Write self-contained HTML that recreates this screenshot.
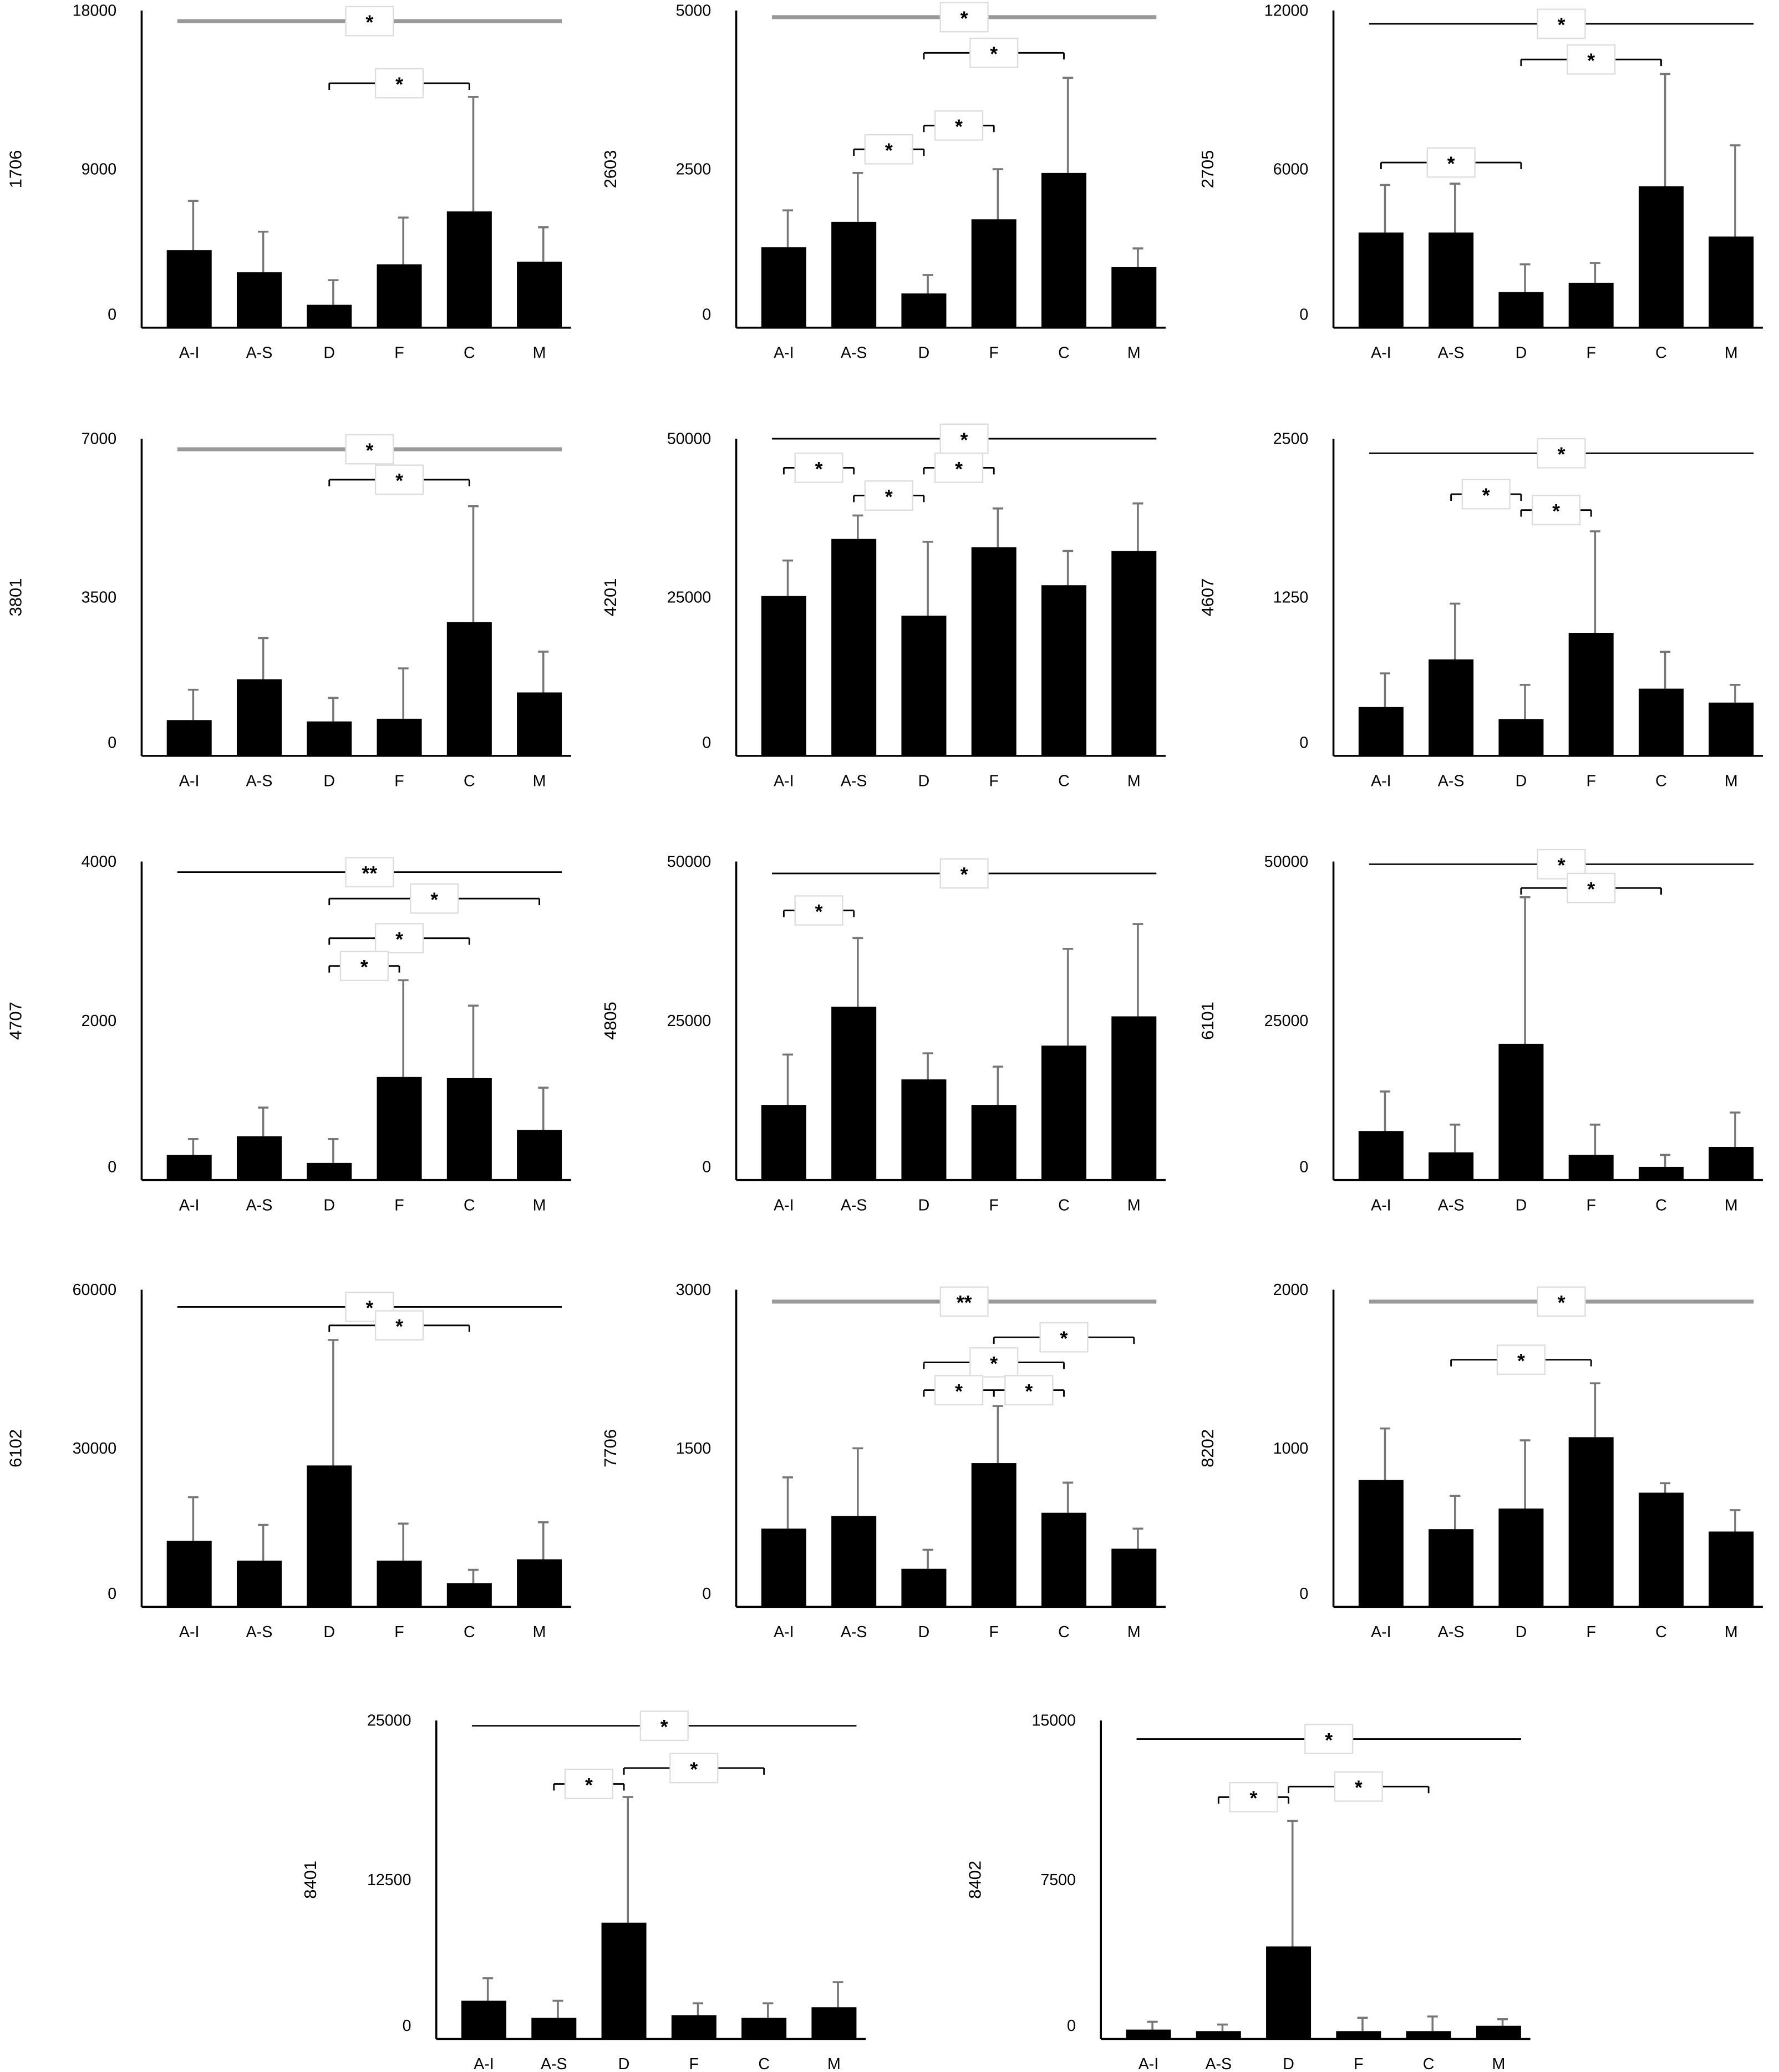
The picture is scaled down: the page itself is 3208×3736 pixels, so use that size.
<!DOCTYPE html>
<html><head><meta charset="utf-8"><style>
html,body{margin:0;padding:0;background:#fff;}
svg{display:block;font-family:"Liberation Sans",sans-serif;}
</style></head><body>
<svg id="fig" xmlns="http://www.w3.org/2000/svg" width="3208" height="3736" viewBox="0 0 1346 1568"></svg>
<script>
const categories = ["A-I","A-S","D","F","C","M"];
const means1706 = [4400,3150,1300,3600,6600,3750];
const err1706   = [7200,5450,2700,6250,13100,5700];
const means2603 = [1270,1670,540,1710,2440,960];
const err2603   = [1850,2440,830,2500,3940,1250];
const means2705 = [3600,3600,1350,1700,5350,3450];
const err2705   = [5400,5450,2400,2450,9600,6900];
const means3801 = [790,1690,760,820,2950,1400];
const err3801   = [1460,2600,1280,1930,5510,2300];
const means4201 = [25200,34200,22100,32900,26900,32300];
const err4201   = [30800,37900,33750,39000,32300,39800];
const means4607 = [385,760,290,970,530,420];
const err4607   = [650,1200,560,1770,820,560];
const means4707 = [315,550,215,1295,1280,630];
const err4707   = [515,910,515,2510,2190,1160];
const means4805 = [11800,27200,15800,11800,21100,25700];
const err4805   = [19700,38000,19900,17800,36300,40200];
const means6101 = [7700,4350,21400,3950,2070,5200];
const err6101   = [13900,8700,44400,8700,3950,10600];
const means6102 = [12500,8750,26750,8750,4500,9000];
const err6102   = [20750,15500,50500,15750,7000,16000];
const means7706 = [740,860,360,1360,890,550];
const err7706   = [1225,1500,540,1900,1175,740];
const means8202 = [800,490,620,1070,720,475];
const err8202   = [1125,700,1050,1410,780,610];
const means8401 = [3000,1660,9130,1870,1660,2490];
const err8401   = [4770,3000,19000,2800,2800,4460];
const means8402 = [440,370,4360,370,370,620];
const err8402   = [810,680,10270,1000,1060,930];
const tickLabels1706=["0","9000","18000"], tickLabels2603=["0","2500","5000"], tickLabels2705=["0","6000","12000"];
const tickLabels3801=["0","3500","7000"], tickLabels4201=["0","25000","50000"], tickLabels4607=["0","1250","2500"];
const tickLabels4707=["0","2000","4000"], tickLabels4805=["0","25000","50000"], tickLabels6101=["0","25000","50000"];
const tickLabels6102=["0","30000","60000"], tickLabels7706=["0","1500","3000"], tickLabels8202=["0","1000","2000"];
const tickLabels8401=["0","12500","25000"], tickLabels8402=["0","7500","15000"];

const panels = [
 {id:"1706",ax:107,top:8,base:248,max:18000,m:means1706,e:err1706,t:tickLabels1706,grey:true,br:[[-1,0,8,"*"],[2,4,55,"*"]]},
 {id:"2603",ax:557,top:8,base:248,max:5000,m:means2603,e:err2603,t:tickLabels2603,grey:true,br:[[-1,0,5,"*"],[2,4,32,"*"],[2,3,87,"*"],[1,2,105,"*"]]},
 {id:"2705",ax:1009,top:8,base:248,max:12000,m:means2705,e:err2705,t:tickLabels2705,grey:false,br:[[-1,0,10,"*"],[2,4,37,"*"],[0,2,115,"*"]]},
 {id:"3801",ax:107,top:332,base:572,max:7000,m:means3801,e:err3801,t:tickLabels3801,grey:true,br:[[-1,0,8,"*"],[2,4,31,"*"]]},
 {id:"4201",ax:557,top:332,base:572,max:50000,m:means4201,e:err4201,t:tickLabels4201,grey:false,br:[[-1,0,0,"*"],[0,1,22,"*"],[1,2,43,"*"],[2,3,22,"*"]]},
 {id:"4607",ax:1009,top:332,base:572,max:2500,m:means4607,e:err4607,t:tickLabels4607,grey:false,br:[[-1,0,11,"*"],[1,2,42,"*"],[2,3,54,"*"]]},
 {id:"4707",ax:107,top:652,base:893,max:4000,m:means4707,e:err4707,t:tickLabels4707,grey:false,br:[[-1,0,8,"**"],[2,5,28,"*"],[2,4,58,"*"],[2,3,79,"*"]]},
 {id:"4805",ax:557,top:652,base:893,max:50000,m:means4805,e:err4805,t:tickLabels4805,grey:false,br:[[-1,0,9,"*"],[0,1,37,"*"]]},
 {id:"6101",ax:1009,top:652,base:893,max:50000,m:means6101,e:err6101,t:tickLabels6101,grey:false,br:[[-1,0,2,"*"],[2,4,20,"*"]]},
 {id:"6102",ax:107,top:976,base:1216,max:60000,m:means6102,e:err6102,t:tickLabels6102,grey:false,br:[[-1,0,13,"*"],[2,4,27,"*"]]},
 {id:"7706",ax:557,top:976,base:1216,max:3000,m:means7706,e:err7706,t:tickLabels7706,grey:true,br:[[-1,0,9,"**"],[3,5,36,"*"],[2,4,55,"*"],[2,3,76,"*"],[3,4,76,"*"]]},
 {id:"8202",ax:1009,top:976,base:1216,max:2000,m:means8202,e:err8202,t:tickLabels8202,grey:true,br:[[-1,0,9,"*"],[1,3,53,"*"]]},
 {id:"8401",ax:330,top:1302,base:1543,max:25000,m:means8401,e:err8401,t:tickLabels8401,grey:false,br:[[-1,0,4,"*"],[2,4,36,"*"],[1,2,48,"*"]]},
 {id:"8402",ax:833,top:1302,base:1543,max:15000,m:means8402,e:err8402,t:tickLabels8402,grey:false,br:[[-1,0,14,"*"],[2,4,50,"*"],[1,2,58,"*"]]}
];
const NS="http://www.w3.org/2000/svg";
const svg=document.getElementById("fig");
function mk(tag,attrs,parent){const el=document.createElementNS(NS,tag);for(const k in attrs)el.setAttribute(k,attrs[k]);(parent||svg).appendChild(el);return el;}
panels.forEach(p=>{
  const g=mk("g",{});
  
  
  const catX=i=>p.ax+36+i*53;
  const yS=v=>p.base-v/p.max*(p.base-p.top);
  const ya=mk("line",{x1:p.ax,y1:p.top,x2:p.ax,y2:p.base,stroke:"#000","stroke-width":1.5},g);
  
  
  const xa=mk("line",{x1:p.ax,y1:p.base,x2:p.ax+325,y2:p.base,stroke:"#000","stroke-width":1.5},g);
  
  
  p.t.forEach((lab,i)=>{
    const v=p.max*i/2;
    const t=mk("text",{x:p.ax-19,y:yS(v)+(i==0?-6:4),"text-anchor":"end","font-size":12},g);
    t.textContent=lab;
    
    
  });
  const yt=mk("text",{x:0,y:0,"text-anchor":"middle","font-size":13,transform:`translate(${p.ax-91},${(p.top+p.base)/2}) rotate(-90)`},g);
  yt.textContent=p.id;
  
  
  categories.forEach((c,i)=>{
    const x=catX(i);
    const eb=mk("line",{x1:x+3,y1:yS(p.m[i]),x2:x+3,y2:yS(p.e[i]),stroke:"#777","stroke-width":1.5},g);
    
    
    const cap=mk("line",{x1:x-1,y1:yS(p.e[i]),x2:x+7,y2:yS(p.e[i]),stroke:"#777","stroke-width":1.5},g);
    
    
    const r=mk("rect",{x:x-17,y:yS(p.m[i]),width:34,height:p.base-yS(p.m[i]),fill:"#000"},g);
    
    
    const t=mk("text",{x:x,y:p.base+23,"text-anchor":"middle","font-size":12},g);
    t.textContent=c;
    
    
  });
  p.br.forEach(b=>{
    const y=p.top+b[2];
    let x1,x2,col,w;
    if(b[0]<0){x1=p.ax+27;x2=p.ax+318;col=p.grey?"#999":"#000";w=p.grey?3:1.2;}
    else{x1=catX(b[0]);x2=catX(b[1]);col="#000";w=1.2;}
    const ln=mk("line",{x1:x1,y1:y,x2:x2,y2:y,stroke:col,"stroke-width":w},g);
    
    
    if(b[0]>=0){
      mk("line",{x1:x1,y1:y,x2:x1,y2:y+5,stroke:"#000","stroke-width":1.2},g);
      mk("line",{x1:x2,y1:y,x2:x2,y2:y+5,stroke:"#000","stroke-width":1.2},g);
    }
    const cx=(x1+x2)/2;
    const bx=mk("rect",{x:cx-18,y:y-11,width:36,height:22,fill:"#fff",stroke:"#ddd","stroke-width":1},g);
    
    
    const st=mk("text",{x:cx,y:y+6,"text-anchor":"middle","font-size":15,"font-weight":"bold"},g);
    st.textContent=b[3];
    
    
  });
});
</script>
</body></html>
